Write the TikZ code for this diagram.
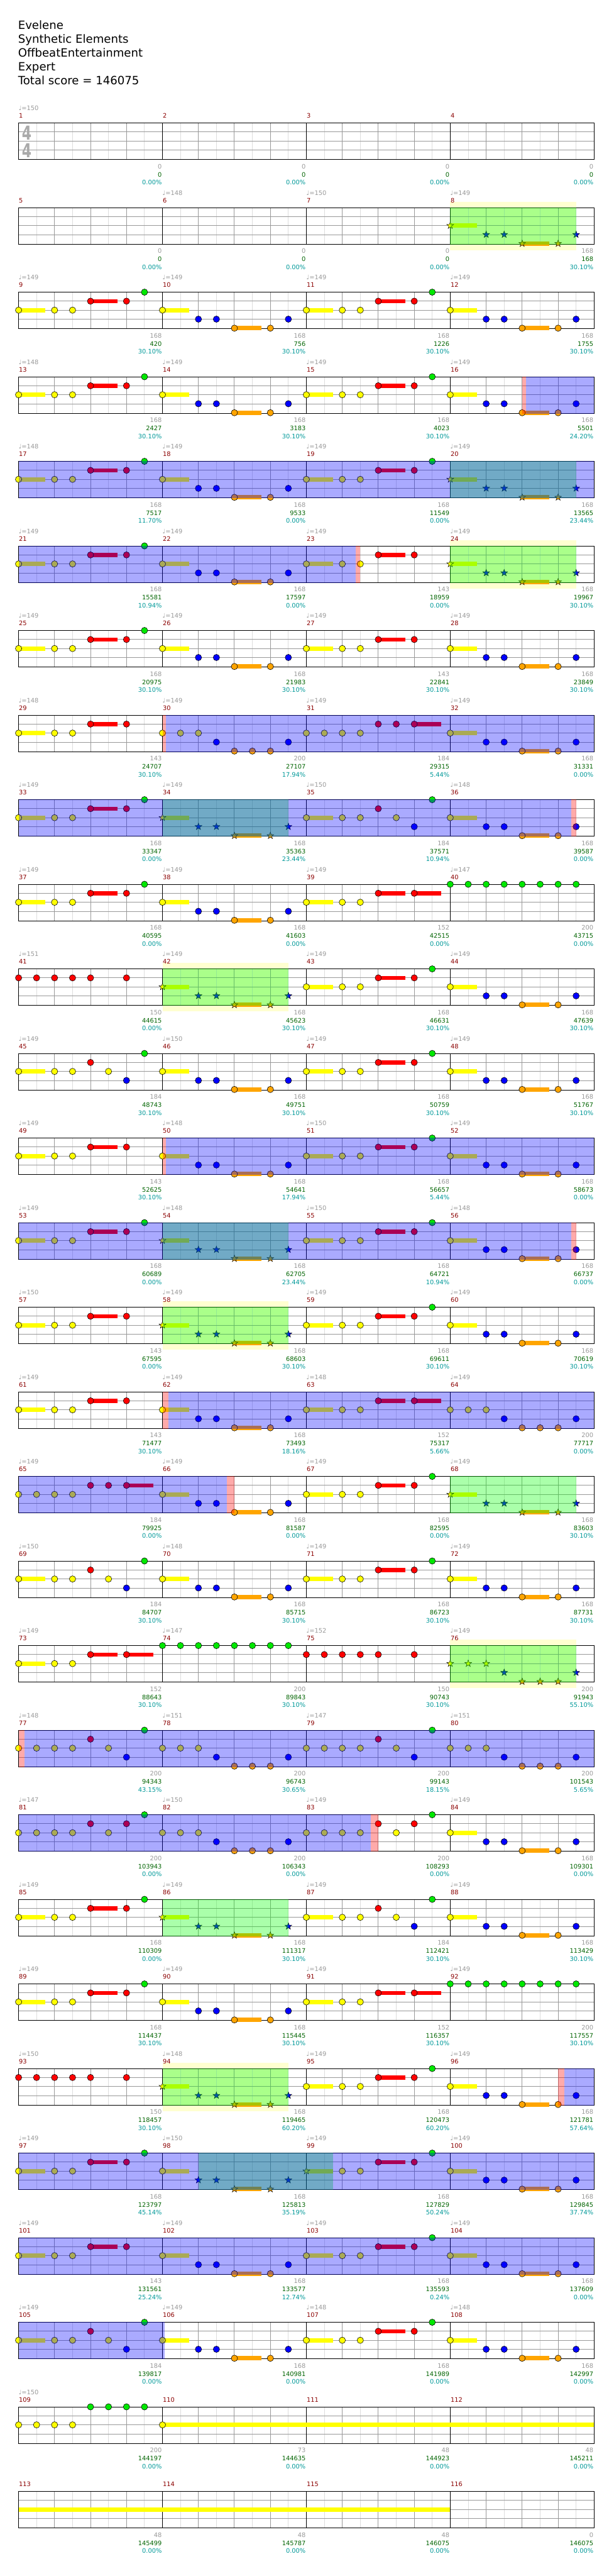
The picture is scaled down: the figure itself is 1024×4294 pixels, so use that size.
\documentclass[tikz,border=0pt]{standalone}
\usepackage{fontspec}
\setmainfont{DejaVu Sans}
\definecolor{lane0}{RGB}{0,232,0}
\definecolor{lane1}{RGB}{255,0,0}
\definecolor{lane2}{RGB}{255,255,0}
\definecolor{lane3}{RGB}{0,0,255}
\definecolor{lane4}{RGB}{255,165,0}
\definecolor{gridlight}{RGB}{221,221,221}
\definecolor{gridmid}{RGB}{153,153,153}
\definecolor{mnum}{RGB}{139,0,0}
\definecolor{tgray}{RGB}{153,153,153}
\definecolor{sgreen}{RGB}{0,100,0}
\definecolor{pteal}{RGB}{0,153,153}
\definecolor{paley}{RGB}{255,255,208}
\definecolor{tsgray}{RGB}{170,170,170}
\definecolor{ovgreen}{RGB}{0,255,0}
\definecolor{ovblue}{RGB}{0,0,255}
\definecolor{ovred}{RGB}{255,0,0}

\newcommand\setpos[2]{%
  \pgfmathtruncatemacro\mcol{mod(#1-1,4)}%
  \pgfmathtruncatemacro\mrow{floor((#1-1)/4)}%
  \pgfmathsetmacro\nX{31+240*\mcol+30*#2}%
  \pgfmathsetmacro\nY{205+141*\mrow}%
}
\newcommand\gnote[3]{\setpos{#1}{#3}\pgfmathsetmacro\nL{\nY+15*#2}%
  \filldraw[fill=lane#2,draw=black,line width=0.6pt] (\nX,\nL) circle[radius=5.3];}
\newcommand\gsus[3]{\setpos{#1}{#3}\pgfmathsetmacro\nL{\nY+15*#2}%
  \fill[lane#2] (\nX,\nL-3.5) rectangle (\nX+45,\nL+3.5);}
\newcommand\gsn[3]{\gsus{#1}{#2}{#3}\gnote{#1}{#2}{#3}}
\newcommand\gstar[3]{\setpos{#1}{#3}\pgfmathsetmacro\nL{\nY+15*#2}%
  \filldraw[fill=lane#2,draw=black,line width=0.5pt,shift={(\nX,\nL)}] (0,-6) -- (-1.41,-1.94) -- (-5.71,-1.85) -- (-2.28,0.74) -- (-3.53,4.85) -- (0,2.4) -- (3.53,4.85) -- (2.28,0.74) -- (5.71,-1.85) -- (1.41,-1.94) -- cycle;}
\newcommand\gsst[3]{\gsus{#1}{#2}{#3}\gstar{#1}{#2}{#3}}

\newcommand\patA[1]{\gsn{#1}{2}{0}\gnote{#1}{2}{2}\gnote{#1}{2}{3}\gsn{#1}{1}{4}\gnote{#1}{1}{6}\gnote{#1}{0}{7}}
\newcommand\patAn[1]{\gsn{#1}{2}{0}\gnote{#1}{2}{2}\gnote{#1}{2}{3}\gsn{#1}{1}{4}\gnote{#1}{1}{6}}
\newcommand\patB[1]{\gsn{#1}{2}{0}\gnote{#1}{3}{2}\gnote{#1}{3}{3}\gsn{#1}{4}{4}\gnote{#1}{4}{6}\gnote{#1}{3}{7}}
\newcommand\patC[1]{\gsn{#1}{2}{0}\gnote{#1}{2}{2}\gnote{#1}{2}{3}\gsn{#1}{1}{4}\gsn{#1}{1}{6}}
\newcommand\patD[1]{\gsn{#1}{2}{0}\gnote{#1}{2}{2}\gnote{#1}{2}{3}\gnote{#1}{1}{4}\gnote{#1}{2}{5}\gnote{#1}{3}{6}\gnote{#1}{0}{7}}
\newcommand\patE[1]{\foreach \ii in {0,...,7}{\gnote{#1}{0}{\ii}}}
\newcommand\patF[1]{\foreach \ii in {0,1,2,3,4,6}{\gnote{#1}{1}{\ii}}}
\newcommand\patS[1]{\gsst{#1}{2}{0}\gstar{#1}{3}{2}\gstar{#1}{3}{3}\gsst{#1}{4}{4}\gstar{#1}{4}{6}\gstar{#1}{3}{7}}
\newcommand\patG[1]{\gnote{#1}{2}{0}\gnote{#1}{2}{1}\gnote{#1}{2}{2}\gnote{#1}{3}{3}\gnote{#1}{4}{4}\gnote{#1}{4}{5}\gnote{#1}{4}{6}\gnote{#1}{3}{7}}
\newcommand\patSG[1]{\gstar{#1}{2}{0}\gstar{#1}{2}{1}\gstar{#1}{2}{2}\gstar{#1}{3}{3}\gstar{#1}{4}{4}\gstar{#1}{4}{5}\gstar{#1}{4}{6}\gstar{#1}{3}{7}}
\newcommand\patH[1]{\gnote{#1}{2}{0}\gnote{#1}{2}{1}\gnote{#1}{2}{2}\gnote{#1}{2}{3}\gnote{#1}{1}{4}\gnote{#1}{2}{5}\gnote{#1}{3}{6}\gnote{#1}{0}{7}}
\newcommand\patI[1]{\gnote{#1}{2}{0}\gnote{#1}{2}{1}\gnote{#1}{2}{2}\gnote{#1}{2}{3}\gnote{#1}{1}{4}\gnote{#1}{2}{5}\gnote{#1}{1}{6}\gnote{#1}{0}{7}}
\newcommand\patJ[1]{\gnote{#1}{2}{0}\gnote{#1}{2}{1}\gnote{#1}{2}{2}\gnote{#1}{2}{3}\gnote{#1}{1}{4}\gnote{#1}{1}{5}\gsn{#1}{1}{6}}
\newcommand\patK[1]{\gnote{#1}{2}{0}\gnote{#1}{2}{1}\gnote{#1}{2}{2}\gnote{#1}{2}{3}\gnote{#1}{0}{4}\gnote{#1}{0}{5}\gnote{#1}{0}{6}\gnote{#1}{0}{7}}

\tikzset{
  gridl/.style={gridlight,line width=1pt},
  gridm/.style={gridmid,line width=1pt},
  gridb/.style={black,line width=1pt},
  smalltxt/.style={inner sep=0,font=\fontsize{10.3}{12}\selectfont},
  headtxt/.style={inner sep=0,anchor=base west,font=\fontsize{19}{23}\selectfont},
  tsig/.style={inner sep=0,anchor=base,text=tsgray,font=\fontsize{32}{32}\selectfont\bfseries},
}

\begin{document}
\begin{tikzpicture}[x=1pt,y=-1pt]
\useasboundingbox (0,0) rectangle (1024,4294);
\fill[white] (0,0) rectangle (1024,4294);

% header
\node[headtxt] (h1) at (30,49) {Evelene};
\node[headtxt] (h2) at (30,72) {Synthetic Elements};
\node[headtxt] (h3) at (30,95) {OffbeatEntertainment};
\node[headtxt] (h4) at (30,118) {Expert};
\node[headtxt] (h5) at (30,141) {Total score = 146075};

% pale yellow star power phrases
\foreach \r/\a/\b in {1/751/961,5/751/961,10/271/481,14/271/481,18/751/961,23/271/481}
  \fill[paley] (\a,205+141*\r-10) rectangle (\b,205+141*\r+71);

% staff grids
\foreach \r in {0,...,28}{
  \pgfmathsetmacro\yt{205+141*\r}
  \foreach \j in {0,...,15} \draw[gridl] (61+60*\j,\yt) -- ++(0,61);
  \foreach \j in {1,2,3,5,6,7,9,10,11,13,14,15} \draw[gridm] (31+60*\j,\yt) -- ++(0,61);
  \foreach \k in {15,30,45} \draw[gridm] (31,\yt+\k) -- (991,\yt+\k);
  \foreach \c in {1,2,3} \draw[gridb] (31+240*\c,\yt) -- ++(0,61);
  \draw[gridb] (31,\yt) rectangle (991,\yt+61);
}

% time signature
\node[tsig] (ts1) at (44.5,233) {\scalebox{0.72}[1]{4}};
\node[tsig] (ts2) at (44.5,263) {\scalebox{0.72}[1]{4}};

% notes
\patS{8}
\patA{9}\patB{10}\patA{11}\patB{12}
\patA{13}\patB{14}\patA{15}\patB{16}
\patA{17}\patB{18}\patA{19}\patS{20}
\patA{21}\patB{22}\patAn{23}\patS{24}
\patA{25}\patB{26}\patAn{27}\patB{28}
\patAn{29}\patG{30}\patJ{31}\patB{32}
\patA{33}\patS{34}\patD{35}\patB{36}
\patA{37}\patB{38}\patC{39}\patE{40}
\patF{41}\patS{42}\patA{43}\patB{44}
\patD{45}\patB{46}\patA{47}\patB{48}
\patAn{49}\patB{50}\patA{51}\patB{52}
\patA{53}\patS{54}\patA{55}\patB{56}
\patAn{57}\patS{58}\patA{59}\patB{60}
\patAn{61}\patB{62}\patC{63}\patG{64}
\patJ{65}\patB{66}\patA{67}\patS{68}
\patD{69}\patB{70}\patA{71}\patB{72}
\patC{73}\patE{74}\patF{75}\patSG{76}
\patH{77}\patG{78}\patH{79}\patG{80}
\patI{81}\patG{82}\patI{83}\patB{84}
\patA{85}\patS{86}\patD{87}\patB{88}
\patA{89}\patB{90}\patC{91}\patE{92}
\patF{93}\patS{94}\patA{95}\patB{96}
\patA{97}
\gsn{98}{2}{0}\gstar{98}{3}{2}\gstar{98}{3}{3}\gsst{98}{4}{4}\gstar{98}{4}{6}\gstar{98}{3}{7}
\gsst{99}{2}{0}\gnote{99}{2}{2}\gnote{99}{2}{3}\gsn{99}{1}{4}\gnote{99}{1}{6}\gnote{99}{0}{7}
\patB{100}
\patAn{101}\patB{102}\patA{103}\patB{104}
\patD{105}\patB{106}\patA{107}\patB{108}
\patK{109}
\fill[lane2] (271,4042-3.5) rectangle (991,4042+3.5);
\gnote{110}{2}{0}
\fill[lane2] (31,4183-3.5) rectangle (751,4183+3.5);

% star power phrase overlays (green)
\foreach \r/\a/\b in {1/751/961,4/751/961,5/751/961,8/271/481,10/271/481,13/271/481,14/271/481,16/751/961,18/751/961,21/271/481,23/271/481,24/331/556}
  \fill[ovgreen,opacity=0.333] (\a,205+141*\r-0.5) rectangle (\b,205+141*\r+61.5);
% overdrive overlays (blue)
\foreach \r/\a/\b in {3/877/991,4/31/991,5/31/593,7/277/991,8/31/953,12/277/991,13/31/953,15/281/991,16/31/378,19/41/991,20/31/619,23/941/991,24/31/991,25/31/991,26/31/275}
  \fill[ovblue,opacity=0.333] (\a,205+141*\r-0.5) rectangle (\b,205+141*\r+61.5);
% activation marks (pink)
\foreach \r/\a/\b in {3/871/877,5/593/601,7/271/277,8/953/961,12/271/277,13/953/961,15/271/281,16/378/391,19/31/41,20/619/631,23/931/941}
  \fill[ovred,opacity=0.333] (\a,205+141*\r-0.5) rectangle (\b,205+141*\r+61.5);

% measure numbers
\foreach \m in {1,...,116}{
  \setpos{\m}{0}
  \node[smalltxt,anchor=base west,text=mnum] (mn\m) at (\nX+0.5,\nY-8) {\m};
}

% tempos
\foreach \m/\t in {1/150,6/148,7/150,8/149,
 9/149,10/149,11/149,12/149,13/148,14/149,15/149,16/149,
 17/148,18/149,19/149,20/149,21/149,22/149,23/149,24/149,
 25/149,26/149,27/149,28/149,29/148,30/149,31/149,32/149,
 33/149,34/149,35/150,36/148,37/149,38/149,39/149,40/147,
 41/151,42/149,43/149,44/149,45/149,46/150,47/149,48/149,
 49/149,50/148,51/150,52/149,53/149,54/148,55/150,56/148,
 57/150,58/149,59/149,60/149,61/149,62/149,63/148,64/149,
 65/149,66/149,67/149,68/149,69/150,70/148,71/149,72/149,
 73/149,74/147,75/152,76/149,77/148,78/151,79/147,80/151,
 81/147,82/150,83/149,84/149,85/149,86/149,87/149,88/149,
 89/149,90/149,91/149,92/149,93/150,94/148,95/149,96/149,
 97/149,98/150,99/149,100/149,101/149,102/149,103/149,104/149,
 105/149,106/149,107/148,108/148,109/150}{
  \setpos{\m}{0}
  \node[smalltxt,anchor=base west,text=tgray] (tp\m) at (\nX,\nY-20.5) {♩=\t};
}

% per-measure statistics
\foreach \m/\ct/\sc/\pc in {1/0/0/0.00,2/0/0/0.00,3/0/0/0.00,4/0/0/0.00,
 5/0/0/0.00,6/0/0/0.00,7/0/0/0.00,8/168/168/30.10,
 9/168/420/30.10,10/168/756/30.10,11/168/1226/30.10,12/168/1755/30.10,
 13/168/2427/30.10,14/168/3183/30.10,15/168/4023/30.10,16/168/5501/24.20,
 17/168/7517/11.70,18/168/9533/0.00,19/168/11549/0.00,20/168/13565/23.44,
 21/168/15581/10.94,22/168/17597/0.00,23/143/18959/0.00,24/168/19967/30.10,
 25/168/20975/30.10,26/168/21983/30.10,27/143/22841/30.10,28/168/23849/30.10,
 29/143/24707/30.10,30/200/27107/17.94,31/184/29315/5.44,32/168/31331/0.00,
 33/168/33347/0.00,34/168/35363/23.44,35/184/37571/10.94,36/168/39587/0.00,
 37/168/40595/0.00,38/168/41603/0.00,39/152/42515/0.00,40/200/43715/0.00,
 41/150/44615/0.00,42/168/45623/30.10,43/168/46631/30.10,44/168/47639/30.10,
 45/184/48743/30.10,46/168/49751/30.10,47/168/50759/30.10,48/168/51767/30.10,
 49/143/52625/30.10,50/168/54641/17.94,51/168/56657/5.44,52/168/58673/0.00,
 53/168/60689/0.00,54/168/62705/23.44,55/168/64721/10.94,56/168/66737/0.00,
 57/143/67595/0.00,58/168/68603/30.10,59/168/69611/30.10,60/168/70619/30.10,
 61/143/71477/30.10,62/168/73493/18.16,63/152/75317/5.66,64/200/77717/0.00,
 65/184/79925/0.00,66/168/81587/0.00,67/168/82595/0.00,68/168/83603/30.10,
 69/184/84707/30.10,70/168/85715/30.10,71/168/86723/30.10,72/168/87731/30.10,
 73/152/88643/30.10,74/200/89843/30.10,75/150/90743/30.10,76/200/91943/55.10,
 77/200/94343/43.15,78/200/96743/30.65,79/200/99143/18.15,80/200/101543/5.65,
 81/200/103943/0.00,82/200/106343/0.00,83/200/108293/0.00,84/168/109301/0.00,
 85/168/110309/0.00,86/168/111317/30.10,87/184/112421/30.10,88/168/113429/30.10,
 89/168/114437/30.10,90/168/115445/30.10,91/152/116357/30.10,92/200/117557/30.10,
 93/150/118457/30.10,94/168/119465/60.20,95/168/120473/60.20,96/168/121781/57.64,
 97/168/123797/45.14,98/168/125813/35.19,99/168/127829/50.24,100/168/129845/37.74,
 101/143/131561/25.24,102/168/133577/12.74,103/168/135593/0.24,104/168/137609/0.00,
 105/184/139817/0.00,106/168/140981/0.00,107/168/141989/0.00,108/168/142997/0.00,
 109/200/144197/0.00,110/73/144635/0.00,111/48/144923/0.00,112/48/145211/0.00,
 113/48/145499/0.00,114/48/145787/0.00,115/48/146075/0.00,116/0/146075/0.00}{
  \setpos{\m}{8}
  \node[smalltxt,anchor=base east,text=tgray] (ct\m) at (\nX-1,\nY+76) {\ct};
  \node[smalltxt,anchor=base east,text=sgreen] (sc\m) at (\nX-1,\nY+89.7) {\sc};
  \node[smalltxt,anchor=base east,text=pteal] (pc\m) at (\nX-1,\nY+103) {\pc\%};
}
\end{tikzpicture}
\end{document}
